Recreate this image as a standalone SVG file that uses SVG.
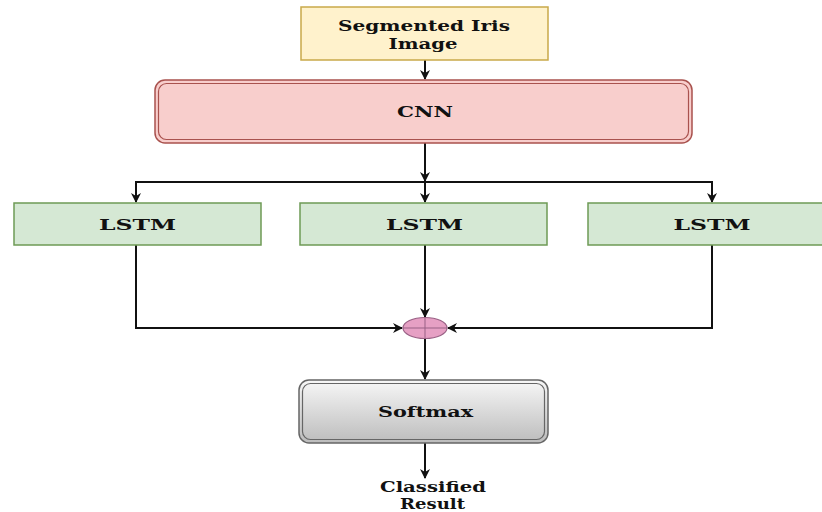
<svg xmlns="http://www.w3.org/2000/svg" width="822" height="512" viewBox="0 0 822 512">
  <defs>
    <style>
      .lbl { font-family: "DejaVu Serif", "Liberation Serif", serif; font-weight: bold; font-size: 14px; fill: #111; text-anchor: middle; }
      .wire { fill: none; stroke: #111; stroke-width: 2; }
      .yellow { fill: #fff2cc; stroke: #c9a94a; stroke-width: 1.5; }
      .red { fill: #f8cecc; stroke: #a9524e; stroke-width: 1.5; }
      .green { fill: #d5e8d4; stroke: #6e9a55; stroke-width: 1.5; }
      .grey { fill: url(#greyGrad); stroke: #666; stroke-width: 1.5; }
      .inner { fill: none; stroke-width: 1.2; }
    </style>
    <linearGradient id="greyGrad" x1="0" y1="0" x2="0" y2="1">
      <stop offset="0" stop-color="#f7f7f7"/>
      <stop offset="1" stop-color="#bcbcbc"/>
    </linearGradient>
    <marker id="arrow" viewBox="0 0 10 10" refX="9" refY="5" markerWidth="10" markerHeight="10" markerUnits="userSpaceOnUse" orient="auto">
      <path d="M0,0 L10,5 L0,10 L3,5 Z" fill="#111"/>
    </marker>
  </defs>
  <rect width="822" height="512" fill="#fff"/>

  <g id="connectors">
    <line class="wire" x1="425" y1="60" x2="425" y2="79" marker-end="url(#arrow)"/>
    <line class="wire" x1="425" y1="143" x2="425" y2="181" marker-end="url(#arrow)"/>
    <polyline class="wire" points="136,202 136,182 712,182 712,202" marker-end="url(#arrow)"/>
    <line class="wire" x1="136" y1="182" x2="136" y2="202" marker-end="url(#arrow)"/>
    <line class="wire" x1="425" y1="182" x2="425" y2="202" marker-end="url(#arrow)"/>
    <line class="wire" x1="425" y1="245" x2="425" y2="317" marker-end="url(#arrow)"/>
    <polyline class="wire" points="136,245 136,328 402,328" marker-end="url(#arrow)"/>
    <polyline class="wire" points="712,245 712,328 448,328" marker-end="url(#arrow)"/>
    <line class="wire" x1="425" y1="339" x2="425" y2="379" marker-end="url(#arrow)"/>
    <line class="wire" x1="425" y1="443" x2="425" y2="478" marker-end="url(#arrow)"/>
  </g>

  <g id="segmented-iris">
    <rect class="yellow" x="301" y="7" width="247" height="53"/>
    <text class="lbl" x="424" y="31" textLength="172" lengthAdjust="spacingAndGlyphs">Segmented Iris</text>
    <text class="lbl" x="423" y="49" textLength="69" lengthAdjust="spacingAndGlyphs">Image</text>
  </g>

  <g id="cnn">
    <rect class="red" x="155" y="80" width="537" height="63" rx="10"/>
    <rect class="inner" x="158.5" y="83.5" width="530" height="56" rx="8" stroke="#a9524e"/>
    <text class="lbl" x="425" y="117" textLength="56" lengthAdjust="spacingAndGlyphs">CNN</text>
  </g>

  <g id="lstm-1">
    <rect class="green" x="14" y="203" width="247" height="42"/>
    <text class="lbl" x="137.5" y="230" textLength="77" lengthAdjust="spacingAndGlyphs">LSTM</text>
  </g>
  <g id="lstm-2">
    <rect class="green" x="300" y="203" width="247" height="42"/>
    <text class="lbl" x="424.5" y="230" textLength="77" lengthAdjust="spacingAndGlyphs">LSTM</text>
  </g>
  <g id="lstm-3">
    <rect class="green" x="588" y="203" width="247" height="42"/>
    <text class="lbl" x="712" y="230" textLength="77" lengthAdjust="spacingAndGlyphs">LSTM</text>
  </g>

  <g id="sum">
    <ellipse cx="425" cy="328" rx="22" ry="10.5" fill="#e6a0c4" stroke="#996185" stroke-width="1.2"/>
    <line x1="425" y1="317.5" x2="425" y2="338.5" stroke="#996185" stroke-width="1"/>
    <line x1="403" y1="328" x2="447" y2="328" stroke="#996185" stroke-width="1"/>
  </g>

  <g id="softmax">
    <rect class="grey" x="299" y="380" width="249" height="63" rx="10"/>
    <rect class="inner" x="302.5" y="383.5" width="242" height="56" rx="8" stroke="#666"/>
    <text class="lbl" x="425.5" y="417" textLength="95" lengthAdjust="spacingAndGlyphs">Softmax</text>
  </g>

  <g id="classified-result">
    <text class="lbl" x="433" y="492" textLength="106" lengthAdjust="spacingAndGlyphs">Classified</text>
    <text class="lbl" x="432.5" y="509" textLength="65" lengthAdjust="spacingAndGlyphs">Result</text>
  </g>
</svg>
